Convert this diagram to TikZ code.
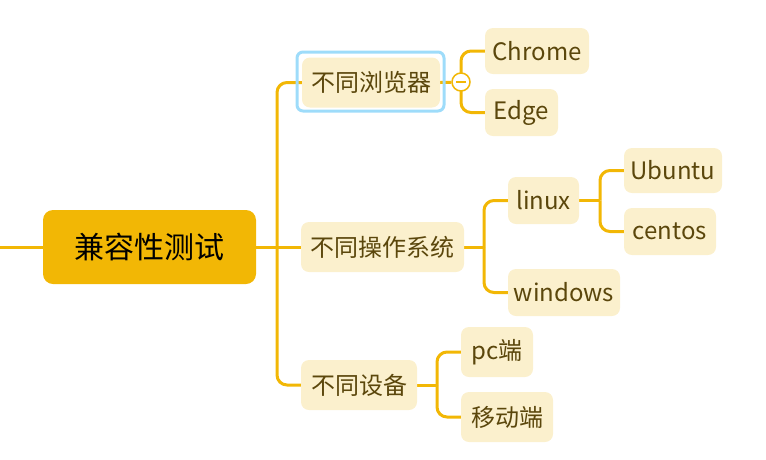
\documentclass[tikz,border=0pt]{standalone}
\usepackage{fontspec}
\setmainfont{Noto Sans CJK SC}
\usetikzlibrary{backgrounds}
\definecolor{gold}{HTML}{F2B705}
\definecolor{cream}{HTML}{FBF0CD}
\definecolor{brownt}{HTML}{5B470C}
\definecolor{selblue}{HTML}{9EDCFA}
\tikzset{
  topic/.style={rectangle, rounded corners=8pt, fill=cream, text=brownt, inner sep=0pt,
    font=\fontsize{24pt}{28pt}\selectfont},
  rootbox/.style={rectangle, rounded corners=10pt, fill=gold, text=black, inner sep=0pt,
    font=\fontsize{30pt}{34pt}\selectfont},
  conn/.style={draw=gold, line width=3pt, rounded corners=10pt},
}
\begin{document}
\begin{tikzpicture}[x=1pt,y=-1pt]
\useasboundingbox (0,0) rectangle (766,459);
\node[rootbox, minimum width=213pt, minimum height=74pt] (root) at (149.5,247) {兼容性测试};
\node[topic, minimum width=138pt, minimum height=50pt] (b1) at (371,82.5) {不同浏览器};
\node[topic, minimum width=163pt, minimum height=50pt] (b2) at (382.5,247) {不同操作系统};
\node[topic, minimum width=116pt, minimum height=50pt] (b3) at (359,385) {不同设备};
\node[topic, minimum width=104pt, minimum height=46pt] (chrome) at (537,51) {Chrome};
\node[topic, minimum width=73pt, minimum height=47pt] (edge) at (521.5,112.5) {Edge};
\node[topic, minimum width=71pt, minimum height=47pt] (linux) at (543.5,200.5) {linux};
\node[topic, minimum width=112pt, minimum height=47pt] (windows) at (564,292.5) {windows};
\node[topic, minimum width=98pt, minimum height=45pt] (ubuntu) at (673,170.5) {Ubuntu};
\node[topic, minimum width=92pt, minimum height=47pt] (centos) at (670,231.5) {centos};
\node[topic, minimum width=72pt, minimum height=50pt] (pc) at (497,352) {pc端};
\node[topic, minimum width=92pt, minimum height=50pt] (mobile) at (507,417) {移动端};
% selection outline
\node[draw=selblue, line width=3pt, rounded corners=6pt, minimum width=147pt, minimum height=59pt, inner sep=0pt] (sel) at (370.5,81.5) {};
% collapse button
\node[circle, draw=gold, fill=white, line width=1.5pt, minimum size=18pt, inner sep=0pt] (fold) at (461,82) {};
\draw[gold, line width=1.5pt] ([xshift=-5pt]fold.center) -- ([xshift=5pt]fold.center);
\coordinate (L) at (0,247);
\coordinate (T) at (277,247);
\coordinate (J2) at (484,247);
\coordinate (J3) at (437,385);
\coordinate (J4) at (600,200.5);
\begin{scope}[on background layer]
\draw[conn] (L) -- (root.west);
\draw[conn] (root.east) -- (T);
\draw[conn] (T) |- (b1.west);
\draw[conn] (T) -- (b2.west);
\draw[conn] (T) |- (b3.west);
\draw[conn] (b1.east) -- (fold);
\draw[conn] (fold.center) |- (chrome.west);
\draw[conn] (fold.center) |- (edge.west);
\draw[conn] (b2.east) -- (J2);
\draw[conn] (J2) |- (linux.west);
\draw[conn] (J2) |- (windows.west);
\draw[conn] (linux.east) -- (J4);
\draw[conn] (J4) |- (ubuntu.west);
\draw[conn] (J4) |- (centos.west);
\draw[conn] (b3.east) -- (J3);
\draw[conn] (J3) |- (pc.west);
\draw[conn] (J3) |- (mobile.west);
\end{scope}
\end{tikzpicture}
\end{document}
